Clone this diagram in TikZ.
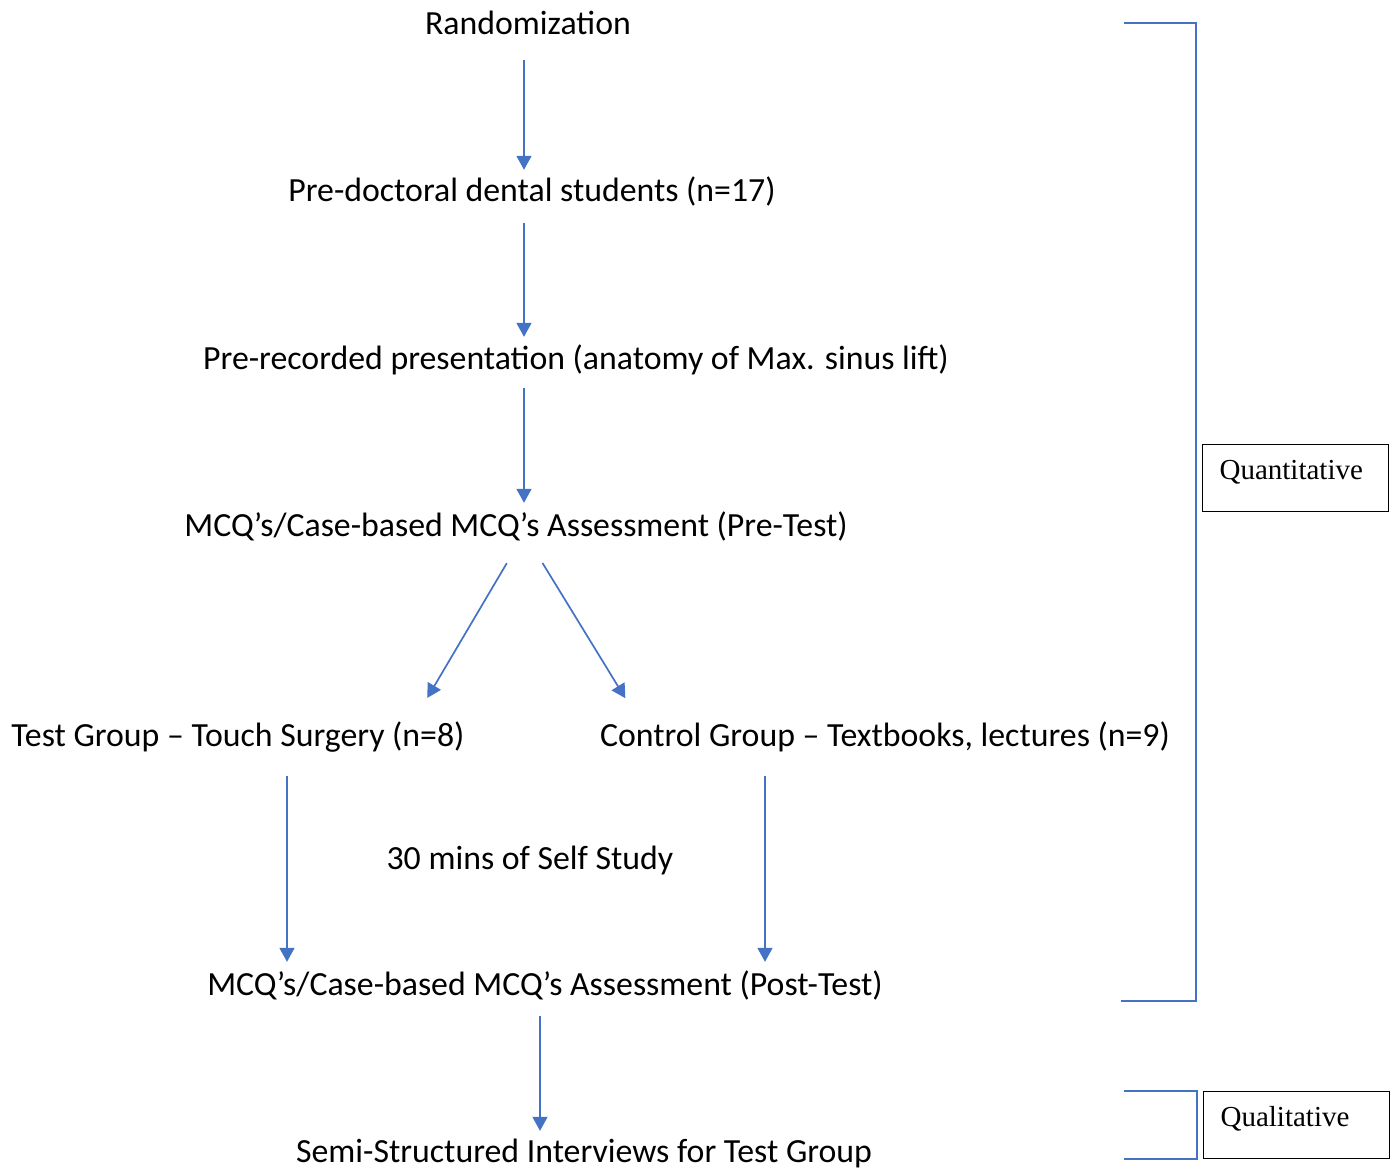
\documentclass[tikz,border=0pt]{standalone}
\usepackage{fontspec}
\setmainfont{Carlito}
\newfontfamily\boxfont{Liberation Serif}
\usetikzlibrary{arrows.meta}
\definecolor{flowblue}{RGB}{68,114,196}
\begin{document}
\begin{tikzpicture}[x=1pt, y=-1pt,
    stage/.style={anchor=base, inner ysep=0pt, inner xsep=0pt, text height=22pt, text depth=8pt,
        font=\fontsize{33.8}{40}\selectfont},
    arr/.style={flowblue, line width=1.7pt, -{Triangle[width=15pt,length=14pt]}},
    brace/.style={flowblue, line width=2pt},
    tag/.style={draw, line width=1.2pt, anchor=north west, minimum width=186pt, minimum height=67pt,
        inner xsep=17pt, inner ysep=5pt, text height=30pt, text depth=27pt, text width=152pt, align=left,
        font=\boxfont\fontsize{29}{35}\selectfont}]
    \useasboundingbox (0,0) rectangle (1395,1169);

    \draw (528,35) node[stage] (rand) {Randomization};
    \draw (532,202) node[stage] (pre) {Pre-doctoral dental students (n=17)};
    \draw (576,369) node[stage] (rec) {Pre-recorded presentation (anatomy of Max. sinus lift)};
    \draw (516,536) node[stage] (pret) {MCQ’s/Case-based MCQ’s Assessment (Pre-Test)};
    \draw (238,746) node[stage] (test) {Test Group – Touch Surgery (n=8)};
    \draw (885,746) node[stage] (ctrl) {Control Group – Textbooks, lectures (n=9)};
    \draw (530,869) node[stage] (self) {30 mins of Self Study};
    \draw (545,995) node[stage] (post) {MCQ’s/Case-based MCQ’s Assessment (Post-Test)};
    \draw (584,1162) node[stage] (semi) {Semi-Structured Interviews for Test Group};

    \draw (1202,444) node[tag] (quant) {Quantitative};
    \draw (1203,1091) node[tag] (qual) {Qualitative};

    \draw[arr, shorten <=17pt, shorten >=10pt] (rand.south -| 524,0) -- (pre.north -| 524,0);
    \draw[arr, shorten <=13pt, shorten >=10pt] (pre.south -| 524,0) -- (rec.north -| 524,0);
    \draw[arr, shorten <=11pt, shorten >=11pt] (rec.south -| 524,0) -- (pret.north -| 524,0);
    \draw[arr, shorten <=22pt, shorten >=30pt] (pret.south -| 518,0) -- (test.north -| 412,0);
    \draw[arr, shorten <=22pt, shorten >=30pt] (pret.south -| 531,0) -- (ctrl.north -| 641,0);
    \draw[arr, shorten <=22pt, shorten >=11pt] (test.south -| 287,0) -- (post.north -| 287,0);
    \draw[arr, shorten <=22pt, shorten >=11pt] (ctrl.south -| 765,0) -- (post.north -| 765,0);
    \draw[arr, shorten <=13pt, shorten >=9pt] (post.south -| 540,0) -- (semi.north -| 540,0);

    % brackets beside the boxes
    \draw[brace] (1124,23) -- (1196,23) -- (1196,1001) -- (1121,1001);
    \draw[brace] (1124,1091) -- (1197,1091) -- (1197,1159) -- (1124,1159);
\end{tikzpicture}
\end{document}
